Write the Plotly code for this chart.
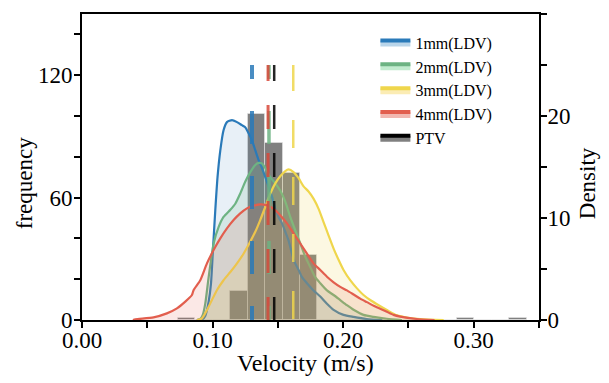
import plotly.graph_objects as go

# ---------------- data ----------------
series_names = ["1mm(LDV)", "2mm(LDV)", "3mm(LDV)", "4mm(LDV)"]

kde1_x = [0.088, 0.0919, 0.0944, 0.097, 0.0988, 0.1003, 0.1021, 0.1038, 0.1059, 0.1084, 0.111,
          0.1149, 0.1187, 0.1225, 0.125, 0.1276, 0.1302, 0.1327, 0.1352, 0.1378, 0.1404, 0.1429,
          0.1455, 0.148, 0.1505, 0.1531, 0.1557, 0.1582, 0.1608, 0.1633, 0.1659, 0.1685, 0.1723,
          0.1773, 0.1825, 0.1876, 0.1927, 0.2003, 0.208, 0.218, 0.23]
kde1_y = [0.0, 0.05, 0.4, 1.8, 3.6, 6.9, 10.8, 14.0, 16.6, 18.6, 19.4,
          19.6, 19.4, 19.1, 18.9, 18.3, 17.6, 16.65, 15.7, 14.9, 14.0, 13.1,
          12.1, 10.9, 10.1, 9.5, 8.65, 7.8, 6.5, 5.55, 4.9, 4.2, 3.6,
          2.9, 2.3, 1.6, 1.0, 0.5, 0.3, 0.1, 0.0]

kde2_x = [0.088, 0.0906, 0.0925, 0.0944, 0.097, 0.1008, 0.1046, 0.1084, 0.1136, 0.1174, 0.1212,
          0.125, 0.1289, 0.1327, 0.1352, 0.1378, 0.1404, 0.1442, 0.148, 0.1518, 0.1557, 0.1595,
          0.1633, 0.1672, 0.171, 0.1748, 0.1786, 0.1825, 0.1876, 0.1927, 0.1978, 0.2029, 0.208,
          0.2156, 0.2233, 0.2335, 0.245]
kde2_y = [0.0, 0.1, 0.5, 1.6, 4.2, 7.5, 9.1, 10.1, 10.8, 11.4, 12.4,
          13.55, 14.5, 15.2, 15.4, 15.35, 14.9, 14.0, 13.4, 12.7, 11.6, 10.1,
          8.8, 7.5, 6.2, 5.2, 4.2, 3.6, 2.9, 2.45, 1.95, 1.45, 1.0,
          0.5, 0.3, 0.12, 0.0]

kde3_x = [0.088, 0.0919, 0.0957, 0.0995, 0.1034, 0.1084, 0.1136, 0.1187, 0.1237, 0.1289, 0.1327,
          0.1365, 0.1404, 0.1442, 0.148, 0.1518, 0.1557, 0.1582, 0.162, 0.1659, 0.1697, 0.1735,
          0.1773, 0.1812, 0.185, 0.1888, 0.1927, 0.1965, 0.2003, 0.2054, 0.2106, 0.2156, 0.2207,
          0.2259, 0.2335, 0.2412, 0.25, 0.259, 0.277]
kde3_y = [0.0, 0.16, 0.98, 1.96, 2.94, 3.9, 4.7, 5.55, 6.5, 7.7, 8.65,
          9.8, 11.1, 12.4, 13.4, 14.1, 14.6, 14.76, 14.5, 13.9, 13.1, 12.6,
          11.9, 10.9, 9.6, 8.3, 7.0, 5.9, 4.9, 3.9, 3.1, 2.45, 1.96,
          1.55, 0.98, 0.45, 0.22, 0.1, 0.0]

kde4_x = [0.039, 0.0409, 0.0548, 0.065, 0.0727, 0.0791, 0.0842, 0.0855, 0.0906, 0.0957, 0.1008,
          0.1059, 0.111, 0.1161, 0.1212, 0.1263, 0.1314, 0.1365, 0.1404, 0.1442, 0.148, 0.1518,
          0.157, 0.162, 0.1672, 0.1723, 0.1773, 0.1825, 0.1876, 0.1927, 0.1978, 0.2029, 0.208,
          0.2131, 0.2182, 0.2233, 0.2284, 0.2335, 0.2386, 0.2437, 0.2565, 0.27]
kde4_y = [0.0, 0.07, 0.26, 0.65, 1.14, 1.8, 2.45, 2.94, 3.9, 5.55, 6.86,
          8.0, 8.98, 9.8, 10.45, 10.94, 11.2, 11.33, 11.29, 11.1, 10.77, 10.28,
          9.47, 8.49, 7.5, 6.5, 5.55, 4.9, 4.24, 3.7, 3.25, 2.9, 2.5,
          2.1, 1.75, 1.4, 1.1, 0.8, 0.5, 0.33, 0.1, 0.0]

kde_x = [kde1_x, kde2_x, kde3_x, kde4_x]
kde_y = [kde1_y, kde2_y, kde3_y, kde4_y]

# mean velocities (vertical dashed lines): 1mm, 2mm, 3mm, 4mm, PTV
mean_names = ["1mm(LDV)", "2mm(LDV)", "3mm(LDV)", "4mm(LDV)", "PTV"]
mean_values = [0.1302, 0.1432, 0.1618, 0.1425, 0.1472]
mean_line_top = 25  # density units

# PTV histogram (frequency)
hist_bin_start = 0.0735
hist_bin_width = 0.01335
hist_counts = [1, 0, 0, 14, 101, 87, 72, 32, 0, 0, 0, 0, 0, 0, 0, 0, 1, 0, 0, 1]

x_tick_vals = [0.0, 0.05, 0.10, 0.15, 0.20, 0.25, 0.30, 0.35]
x_tick_text = ["0.00", "", "0.10", "", "0.20", "", "0.30", ""]
y_tick_vals = [0, 20, 40, 60, 80, 100, 120, 140]
y_tick_text = ["0", "", "", "60", "", "", "120", ""]
y2_tick_vals = [0, 5, 10, 15, 20, 25, 30]
y2_tick_text = ["0", "", "10", "", "20", "", "30"]

x_title = "Velocity (m/s)"
y_title = "frequency"
y2_title = "Density"

# ---------------- styles ----------------
line_colors = ["#2a7ab9", "#6db383", "#efd64c", "#e25e4e"]
fill_colors = ["rgba(42,122,185,0.11)", "rgba(109,179,131,0.16)",
               "rgba(239,214,76,0.16)", "rgba(226,94,78,0.14)"]
legend_fill = ["#b9d5ea", "#c2ebcf", "#fbecb4", "#f2b7b0"]
vline_colors = ["#2a7ab9", "#6db383", "#efd64c", "#d9483a", "#000000"]
vline_widths = [4, 3.5, 2.5, 3, 2.5]
vline_dash = [
    "14px,32px,33px,32px,33px,32px,33px,32px,33px,32px",
    "14px,32px,33px,32px,33px,32px,33px,32px,33px,32px",
    "26px,29px,28px,29px,28px,29px,28px,29px,28px,29px",
    "16px,24px,24px,24px,24px,24px,24px,24px,24px,24px,24px,24px",
    "16px,24px,24px,24px,24px,24px,24px,24px,24px,24px,24px,24px",
]

FONT = "Liberation Serif, Times New Roman, serif"

fig = go.Figure()

# histogram (frequency, drawn first / underneath)
centers = [hist_bin_start + (i + 0.5) * hist_bin_width for i in range(len(hist_counts))]
fig.add_trace(go.Bar(
    x=centers, y=hist_counts, width=[hist_bin_width] * len(hist_counts),
    marker=dict(color="rgb(128,128,128)", line=dict(color="rgba(230,230,230,0.6)", width=1)),
    showlegend=False, yaxis="y", hoverinfo="skip"))

# KDE curves (density)
for i in range(4):
    fig.add_trace(go.Scatter(
        x=kde_x[i], y=kde_y[i], mode="lines", fill="tozeroy",
        fillcolor=fill_colors[i], line=dict(color=line_colors[i], width=2.2, shape="spline", smoothing=0.6),
        opacity=0.92, showlegend=False, yaxis="y2", hoverinfo="skip"))

# vertical mean lines
for i in range(5):
    fig.add_trace(go.Scatter(
        x=[mean_values[i], mean_values[i]], y=[mean_line_top, 0], mode="lines",
        line=dict(color=vline_colors[i], width=vline_widths[i], dash=vline_dash[i]),
        opacity=0.85, showlegend=False, yaxis="y2", hoverinfo="skip"))

# legend entries (line + light patch)
for i in range(4):
    fig.add_trace(go.Scatter(
        x=[None], y=[None], mode="lines", fill="tozeroy", name=series_names[i],
        line=dict(color=line_colors[i], width=4), fillcolor=legend_fill[i], yaxis="y2"))
fig.add_trace(go.Scatter(
    x=[None], y=[None], mode="lines", fill="tozeroy", name="PTV",
    line=dict(color="#000000", width=4), fillcolor="#808080", yaxis="y2"))

axis_common = dict(
    showgrid=False, zeroline=False, showline=True, linecolor="black", linewidth=2,
    ticks="outside", ticklen=6, tickwidth=2, tickcolor="black", automargin=False,
    tickfont=dict(family=FONT, size=23, color="black"),
)

# the page body adds an 8px offset, so the figure is sized to fill the rest of the window
fig.update_layout(
    width=601, height=375,
    margin=dict(l=74, r=70, t=6, b=63, autoexpand=False),
    paper_bgcolor="white", plot_bgcolor="white",
    font=dict(family=FONT, color="black"),
    barmode="overlay", bargap=0,
    xaxis=dict(range=[0, 0.35], tickmode="array", tickvals=x_tick_vals, ticktext=x_tick_text,
               mirror=True, layer="below traces", ticklabelstandoff=-8,
               **axis_common),
    yaxis=dict(range=[0, 150], tickmode="array", tickvals=y_tick_vals, ticktext=y_tick_text,
               side="left", ticklabelstandoff=-3,
               **axis_common),
    yaxis2=dict(range=[0, 30], tickmode="array", tickvals=y2_tick_vals, ticktext=y2_tick_text,
                side="right", overlaying="y", anchor="x", ticklabelstandoff=-4,
                **axis_common),
    legend=dict(x=0.642, y=0.962, xanchor="left", yanchor="top",
                bgcolor="rgba(0,0,0,0)", borderwidth=0,
                font=dict(family=FONT, size=16, color="black"),
                itemwidth=30, tracegroupgap=0),
    annotations=[
        dict(text=x_title, xref="paper", yref="paper", x=0.5, y=0, xanchor="center",
             yanchor="middle", xshift=-5, yshift=-43, showarrow=False,
             font=dict(family=FONT, size=24, color="black")),
        dict(text=y_title, xref="paper", yref="paper", x=0, y=0.447, xanchor="center",
             yanchor="middle", xshift=-58, textangle=-90, showarrow=False,
             font=dict(family=FONT, size=23, color="black")),
        dict(text=y2_title, xref="paper", yref="paper", x=1, y=0.447, xanchor="center",
             yanchor="middle", xshift=48, textangle=-90, showarrow=False,
             font=dict(family=FONT, size=23, color="black")),
    ],
)

fig.write_html("out.html")
